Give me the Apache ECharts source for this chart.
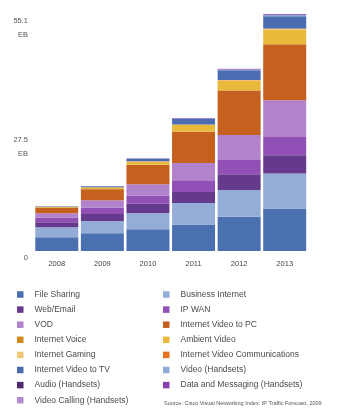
<!DOCTYPE html>
<html><head><meta charset="utf-8">
<script src="https://cdn.jsdelivr.net/npm/echarts@6/dist/echarts.min.js"></script>
<style>html,body{margin:0;padding:0;background:#fff}#c{width:348px;height:413px}</style>
</head><body><div id="c"></div>
<script>
var years = ['2008','2009','2010','2011','2012','2013'];
var yTickLabels = {0:'0', 27.55:'27.5\nEB', 55.1:'55.1\nEB'};
// values in EB per month, bottom of stack first
var fileSharing      = [3.19, 4.12, 5.05, 6.16, 7.98, 9.86];
var businessInternet = [2.33, 2.86, 3.80, 5.02, 6.20, 8.14];
var webEmail         = [1.16, 1.63, 2.14, 2.56, 3.65, 4.26];
var ipWan            = [1.09, 1.47, 1.86, 2.72, 3.33, 4.26];
var vod              = [1.02, 1.74, 2.67, 4.02, 5.81, 8.53];
var videoToPC        = [1.30, 2.56, 4.47, 7.21, 10.30, 12.95];
var internetVoice    = [0.05, 0.06, 0.08, 0.10, 0.12, 0.15];
var ambientVideo     = [0.10, 0.30, 0.70, 1.50, 2.20, 3.35];
var internetGaming   = [0.02, 0.03, 0.04, 0.06, 0.08, 0.10];
var videoComm        = [0.02, 0.03, 0.04, 0.06, 0.08, 0.10];
var videoToTV        = [0.10, 0.25, 0.60, 1.35, 2.30, 2.85];
var videoHandsets    = [0.00, 0.01, 0.02, 0.05, 0.12, 0.30];
var audioHandsets    = [0.00, 0.00, 0.01, 0.02, 0.04, 0.08];
var dataHandsets     = [0.01, 0.02, 0.04, 0.07, 0.12, 0.20];
var videoCalling     = [0.00, 0.00, 0.01, 0.02, 0.04, 0.10];

var seriesDefs = [
  ['File Sharing', fileSharing, '#4a70b0'],
  ['Business Internet', businessInternet, '#93add7'],
  ['Web/Email', webEmail, '#653a8c'],
  ['IP WAN', ipWan, '#9050b6'],
  ['VOD', vod, '#b382cd'],
  ['Internet Video to PC', videoToPC, '#c5601e'],
  ['Internet Voice', internetVoice, '#d08a1a'],
  ['Ambient Video', ambientVideo, '#e8b93a'],
  ['Internet Gaming', internetGaming, '#f0c878'],
  ['Internet Video Communications', videoComm, '#e8731e'],
  ['Internet Video to TV', videoToTV, '#4a6db2'],
  ['Video (Handsets)', videoHandsets, '#8eaad8'],
  ['Audio (Handsets)', audioHandsets, '#4f2a70'],
  ['Data and Messaging (Handsets)', dataHandsets, '#8a40b0'],
  ['Video Calling (Handsets)', videoCalling, '#b58ad0']
];
var legendLeft = ['File Sharing','Web/Email','VOD','Internet Voice','Internet Gaming','Internet Video to TV','Audio (Handsets)','Video Calling (Handsets)'];
var legendRight = ['Business Internet','IP WAN','Internet Video to PC','Ambient Video','Internet Video Communications','Video (Handsets)','Data and Messaging (Handsets)'];

var chart = echarts.init(document.getElementById('c'), null, {renderer:'canvas'});
var legendCommon = {
  orient:'vertical', itemWidth:6.5, itemHeight:6.5, itemGap:6.1, icon:'rect', padding:0,
  textStyle:{fontSize:8.5, color:'#4a4a4a', fontFamily:'Liberation Sans, Arial, sans-serif', lineHeight:8.5, padding:[0,0,0,6]},
  selectedMode:false
};
chart.setOption({
  animation:false,
  grid:{left:34, right:40.5, top:14, bottom:162},
  xAxis:{type:'category', data:years,
    axisLine:{show:false}, axisTick:{show:false},
    axisLabel:{fontSize:7.5, color:'#444', margin:9, fontFamily:'Liberation Sans, Arial, sans-serif'}},
  yAxis:{type:'value', min:0, max:55.1, interval:27.55,
    splitLine:{show:false}, axisLine:{show:false}, axisTick:{show:false},
    axisLabel:{fontSize:7.5, color:'#555', margin:6, verticalAlign:'top', lineHeight:14, align:'right',
      fontFamily:'Liberation Sans, Arial, sans-serif',
      formatter:function(v){ return yTickLabels[v] !== undefined ? yTickLabels[v] : ''; }}},
  legend:[
    Object.assign({left:17, top:290, data:legendLeft}, legendCommon),
    Object.assign({left:163, top:290, data:legendRight}, legendCommon)
  ],
  graphic:[{type:'text', left:164, top:400, style:{text:'Source: Cisco Visual Networking Index: IP Traffic Forecast, 2009', fontSize:5.5, fill:'#555', fontFamily:'Liberation Sans, Arial, sans-serif'}}],
  series: seriesDefs.map(function(d){
    return {name:d[0], type:'bar', stack:'t', data:d[1], barWidth:43, itemStyle:{color:d[2]}};
  })
});
</script></body></html>
